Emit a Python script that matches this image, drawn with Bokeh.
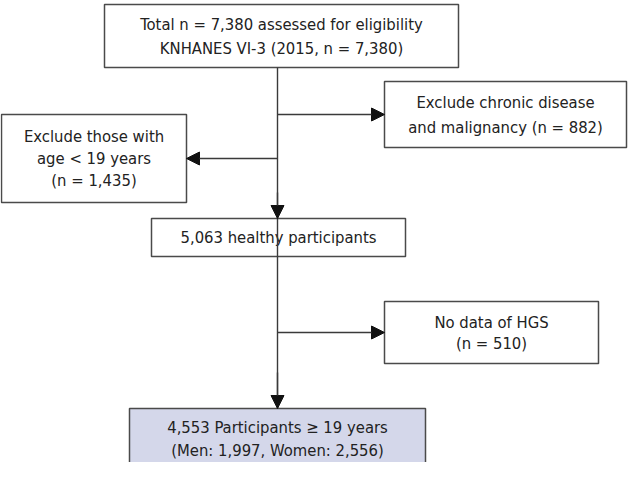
from bokeh.plotting import figure
from bokeh.models import Range1d, Arrow, NormalHead, ColumnDataSource
from bokeh.core.properties import value
from bokeh.embed import file_html
from bokeh.resources import INLINE

# ---- content ----
box_names = ["total", "chronic", "age", "healthy", "hgs", "final"]
box_lines = [
    ["Total n = 7,380 assessed for eligibility", "KNHANES VI-3 (2015, n = 7,380)"],
    ["Exclude chronic disease", "and malignancy (n = 882)"],
    ["Exclude those with", "age < 19 years", "(n = 1,435)"],
    ["5,063 healthy participants"],
    ["No data of HGS", "(n = 510)"],
    ["4,553 Participants \u2265 19 years", "(Men: 1,997, Women: 2,556)"],
]
counts = [7380, 882, 1435, 5063, 510, 4553]

# ---- layout (page pixel coordinates) ----
left = [112, 392, 9, 159, 392, 137]
right = [466, 634, 194, 413, 606, 433]
top = [12, 89, 122, 226, 309, 416]
bottom = [75, 155, 210, 264, 371, 477]
fills = ["white", "white", "white", "white", "white", "#d4d7ea"]
line_gap = [24, 25, 22, 22, 21, 23]
cx_main = 285

W, H = 628, 462
p = figure(width=W, height=H, output_backend="svg", toolbar_location=None,
           x_range=Range1d(8, 8 + W), y_range=Range1d(8 + H, 8),
           min_border=0, outline_line_color=None)
p.axis.visible = False
p.grid.visible = False
p.background_fill_color = "white"

p.quad(left=left, right=right, top=top, bottom=bottom,
       fill_color=fills, line_color="#4a4a4a", line_width=1.5)

xs, ys, ts = [], [], []
for i, lines in enumerate(box_lines):
    cx = (left[i] + right[i]) / 2
    cy = (top[i] + bottom[i]) / 2
    n = len(lines)
    for j, t in enumerate(lines):
        xs.append(cx)
        ys.append(cy + (j - (n - 1) / 2) * line_gap[i])
        ts.append(t)
src = ColumnDataSource(dict(x=xs, y=ys, text=ts))
p.text(x="x", y="y", text="text", source=src, text_align="center",
       text_baseline="middle", text_font=value("DejaVu Sans Condensed"),
       text_font_size="16.5px", text_color="#222222")

# connectors
p.segment(x0=[cx_main, cx_main], y0=[bottom[0], bottom[3]],
          x1=[cx_main, cx_main], y1=[bottom[3], top[5]],
          line_color="#3a3a3a", line_width=1.4)
arrow_specs = [
    (cx_main, 200, cx_main, top[3]),
    (cx_main, 380, cx_main, top[5]),
    (cx_main, (top[1] + bottom[1]) / 2, left[1], (top[1] + bottom[1]) / 2),
    (cx_main, (top[2] + bottom[2]) / 2, right[2], (top[2] + bottom[2]) / 2),
    (cx_main, (top[4] + bottom[4]) / 2, left[4], (top[4] + bottom[4]) / 2),
]
for (x0, y0, x1, y1) in arrow_specs:
    p.add_layout(Arrow(end=NormalHead(size=13, fill_color="#111111", line_color="#111111"),
                       x_start=x0, y_start=y0, x_end=x1, y_end=y1,
                       line_color="#3a3a3a", line_width=1.4))

open("out.html", "w").write(file_html(p, INLINE))
